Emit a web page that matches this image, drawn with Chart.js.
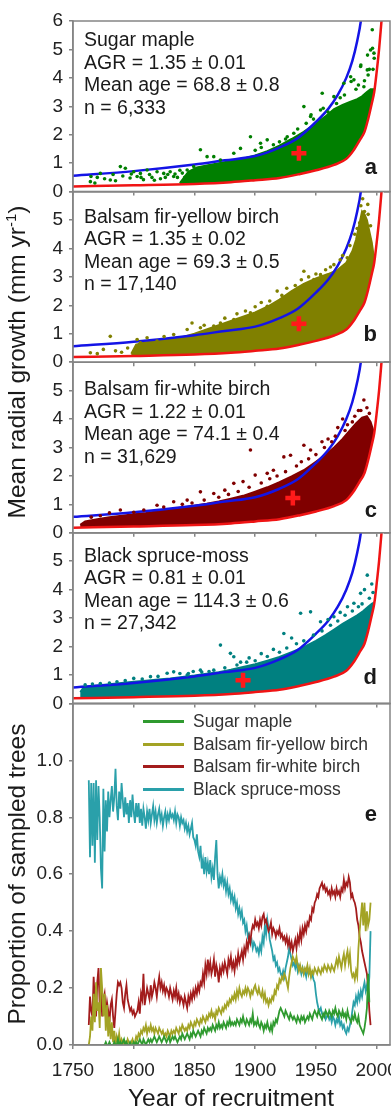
<!DOCTYPE html>
<html>
<head>
<meta charset="utf-8">
<script src="https://cdn.jsdelivr.net/npm/chart.js@4.4.1/dist/chart.umd.min.js"></script>
<style>
  html, body { margin: 0; padding: 0; background: #fff; }
  #fig { position: relative; width: 391px; height: 1116px; overflow: hidden;
         font-family: "Liberation Sans", Arial, sans-serif; color: #1a1a1a; }
  #fig canvas { position: absolute; left: 0; }
  .note { position: absolute; left: 84px; font-size: 19.5px; line-height: 22.5px; white-space: nowrap; }
  .tag { position: absolute; right: 14px; font-size: 22px; font-weight: bold; line-height: 22px; }
  .ytitle { position: absolute; font-size: 24.5px; line-height: 1; white-space: nowrap;
            transform: translate(-50%, -50%) rotate(-90deg); }
  .ytitle sup { font-size: 15px; vertical-align: 9px; line-height: 0; }
  .xtitle { position: absolute; top: 1086px; left: 231px; font-size: 24.5px; line-height: 1;
            white-space: nowrap; transform: translateX(-50%); }
  .leg { position: absolute; left: 143px; top: 710px; font-size: 17.5px; color: #333; }
  .leg div { display: flex; align-items: center; height: 22.75px; white-space: nowrap; }
  .leg span { display: inline-block; width: 41px; height: 3px; margin-right: 9px; }
</style>
</head>
<body>
<div id="fig">
  <canvas id="pa"></canvas>
  <canvas id="pb"></canvas>
  <canvas id="pc"></canvas>
  <canvas id="pd"></canvas>
  <canvas id="pe"></canvas>

  <div class="note" style="top:28px">Sugar maple<br>AGR = 1.35 ± 0.01<br>Mean age = 68.8 ± 0.8<br>n = 6,333</div>
  <div class="note" style="top:204.7px">Balsam fir-yellow birch<br>AGR = 1.35 ± 0.02<br>Mean age = 69.3 ± 0.5<br>n = 17,140</div>
  <div class="note" style="top:377px">Balsam fir-white birch<br>AGR = 1.22 ± 0.01<br>Mean age = 74.1 ± 0.4<br>n = 31,629</div>
  <div class="note" style="top:543.7px">Black spruce-moss<br>AGR = 0.81 ± 0.01<br>Mean age = 114.3 ± 0.6<br>n = 27,342</div>

  <div class="tag" style="top:156.4px">a</div>
  <div class="tag" style="top:323.1px">b</div>
  <div class="tag" style="top:498.7px">c</div>
  <div class="tag" style="top:666.4px">d</div>
  <div class="tag" style="top:803.1px">e</div>

  <div class="leg">
    <div><span style="background:#2f9a2f"></span>Sugar maple</div>
    <div><span style="background:#a3a325"></span>Balsam fir-yellow birch</div>
    <div><span style="background:#a31c1c"></span>Balsam fir-white birch</div>
    <div><span style="background:#2aa0aa"></span>Black spruce-moss</div>
  </div>

  <div class="ytitle" style="left:16.5px; top:361.5px">Mean radial growth (mm yr<sup>-1</sup>)</div>
  <div class="ytitle" style="left:16.5px; top:873.5px">Proportion of sampled trees</div>
  <div class="xtitle">Year of recruitment</div>
</div>

<script>
// ---- fitted envelope curves (same in panels a-d) ----
const blueYears = [1750, 1800, 1850, 1875, 1900, 1920, 1935, 1950, 1960, 1968, 1975, 1980, 1984, 1987, 1990];
const blueCurve = [0.56, 0.72, 0.95, 1.1, 1.25, 1.55, 1.88, 2.45, 2.9, 3.4, 4.0, 4.6, 5.3, 6.0, 7.2];
const redYears = [1750, 1800, 1850, 1880, 1900, 1920, 1937, 1950, 1965, 1975, 1981, 1986, 1990, 1993, 1996, 1998, 2000, 2002, 2004, 2006];
const redCurve = [0.18, 0.22, 0.27, 0.33, 0.40, 0.48, 0.62, 0.75, 0.94, 1.15, 1.45, 1.8, 2.1, 2.55, 3.1, 3.5, 4.2, 5.0, 6.0, 7.0];

// ---- mean marker (year of mean recruitment, AGR) ----
const crossYears = [1936, 1936, 1931, 1890];
const crossAGR = [1.35, 1.35, 1.22, 0.81];

// ---- upper edge of the dense point cloud [year, growth] ----
const sugarCloud = [[1838,0.3],[1845,0.7],[1852,0.85],[1860,0.92],[1870,1.0],[1880,1.08],[1890,1.16],[1900,1.27],[1910,1.42],[1920,1.62],[1930,1.85],[1940,2.1],[1950,2.4],[1958,2.65],[1965,2.9],[1972,3.05],[1978,3.15],[1984,3.25],[1988,3.35],[1992,3.5],[1995,3.6],[1998,3.6]];
const yellowCloud = [[1798,0.3],[1802,0.62],[1810,0.7],[1820,0.75],[1830,0.8],[1840,0.88],[1850,1.0],[1860,1.15],[1870,1.3],[1880,1.45],[1890,1.6],[1900,1.75],[1910,1.95],[1920,2.2],[1930,2.5],[1940,2.75],[1950,2.95],[1960,3.1],[1968,3.25],[1975,3.5],[1980,3.9],[1983,4.3],[1986,4.9],[1988,5.3],[1990,5.2],[1992,5.0],[1994,4.6],[1996,4.2],[1998,3.6]];
const whiteCloud = [[1756,0.28],[1760,0.4],[1770,0.48],[1780,0.55],[1790,0.6],[1800,0.65],[1810,0.7],[1820,0.76],[1830,0.82],[1840,0.88],[1850,0.95],[1860,1.02],[1870,1.1],[1880,1.2],[1890,1.3],[1900,1.45],[1910,1.6],[1920,1.78],[1930,1.98],[1940,2.2],[1950,2.5],[1958,2.75],[1965,3.0],[1972,3.3],[1978,3.6],[1983,3.85],[1988,4.05],[1992,4.1],[1995,3.9],[1998,3.5]];
const spruceCloud = [[1756,0.4],[1759,0.58],[1770,0.63],[1780,0.67],[1790,0.72],[1800,0.76],[1810,0.8],[1820,0.84],[1830,0.88],[1840,0.93],[1850,0.98],[1860,1.04],[1870,1.1],[1880,1.18],[1890,1.28],[1900,1.38],[1910,1.5],[1920,1.63],[1930,1.8],[1940,1.98],[1950,2.2],[1958,2.4],[1965,2.6],[1972,2.8],[1978,2.95],[1984,3.1],[1989,3.25],[1993,3.4],[1996,3.5],[1998,3.55]];

// ---- scattered single trees outside the dense cloud [year, growth] ----
const sugarDots = [[1764.3,0.35],[1764.8,0.53],[1768,0.3],[1770,0.5],[1772.5,0.64],[1776,0.45],[1780.7,0.41],[1783,0.6],[1785,0.38],[1789,0.88],[1791,0.55],[1793.1,0.82],[1797,0.48],[1798,0.62],[1800,0.7],[1802.8,0.53],[1805.5,0.64],[1806,0.5],[1808,0.42],[1811,0.76],[1813,0.6],[1815,0.5],[1817,0.4],[1819.2,0.7],[1822,0.45],[1824.7,0.64],[1826,0.5],[1828,0.6],[1830,0.7],[1832.9,0.53],[1834,0.62],[1836,0.5],[1838,0.75],[1840,0.65],[1842,0.5],[1844,0.76],[1849.4,0.88],[1854.9,1.47],[1860.4,1.23],[1865.9,1.23],[1871.4,1.11],[1882.4,1.35],[1887.9,1.52],[1896.1,1.93],[1900,1.45],[1904.4,1.7],[1905,1.55],[1909.9,1.82],[1915,1.65],[1920,1.75],[1925,1.85],[1926.4,1.93],[1931.8,2.05],[1935,2.2],[1940.1,2.99],[1942,2.4],[1945.6,2.64],[1946,2.7],[1948,2.55],[1953.8,2.87],[1955.2,3.46],[1956,2.93],[1960,2.8],[1964.8,3.34],[1967,3.1],[1970,3.3],[1973,3.81],[1973.5,3.4],[1978.6,4.04],[1979,3.87],[1981.3,3.93],[1983,3.6],[1985,3.75],[1986.8,4.4],[1987,4.45],[1989.5,3.69],[1990,3.9],[1992.3,4.28],[1992.5,4.8],[1993,4.1],[1994,4.3],[1995,4.98],[1996.4,5.69],[1996.6,5.04],[1997,4.3],[1997.8,4.87],[1998,4.69]];
const yellowDots = [[1764.3,0.33],[1770,0.3],[1775,0.45],[1780.7,0.91],[1785,0.4],[1790,0.35],[1795,0.5],[1802.8,0.8],[1805.5,0.68],[1811,0.86],[1819.2,0.74],[1825,0.9],[1832.9,0.97],[1844,1.15],[1848,1.38],[1854.9,1.21],[1858,1.3],[1865.9,1.27],[1871.4,1.38],[1875,1.55],[1882.4,1.5],[1885,1.7],[1892,1.8],[1896.1,1.74],[1900,1.95],[1905,2.1],[1909.9,1.97],[1912,2.15],[1918.1,2.5],[1922,2.35],[1926,2.6],[1929.1,2.09],[1933,2.7],[1935,2.6],[1938,2.9],[1940.1,3.2],[1944,3.0],[1948.3,2.91],[1950,3.1],[1953.8,3.08],[1958,3.25],[1962,3.35],[1964.8,3.43],[1970,3.6],[1972,3.75],[1975.8,3.67],[1978,4.1],[1982,4.5],[1984,4.7],[1986,4.9],[1987,5.5],[1988.5,5.75],[1990,5.3],[1992.7,5.55],[1993,5.2],[1995,4.8]];
const whiteDots = [[1765,0.55],[1772.5,0.6],[1780,0.7],[1789,0.8],[1800,0.72],[1808.3,0.8],[1819.2,0.97],[1824.7,0.91],[1832.9,1.09],[1840,1.0],[1844,1.15],[1848,1.05],[1854.9,1.44],[1858,1.15],[1865.9,1.38],[1870,1.25],[1875,1.5],[1878,1.35],[1882.4,1.74],[1886,1.45],[1890,1.8],[1895,1.6],[1896.1,2.91],[1900,2.03],[1905,1.75],[1909.9,2.09],[1912,1.9],[1915,2.2],[1918,2.0],[1923.6,2.67],[1925,2.15],[1929.1,2.73],[1934,2.35],[1938,2.5],[1940.1,3.08],[1944,2.6],[1945.6,2.91],[1950,2.75],[1955,3.2],[1957,3.0],[1960,3.3],[1963,3.2],[1966,3.4],[1968,3.7],[1972,4.0],[1974,3.6],[1976,3.8],[1980,3.9],[1982,4.1],[1985,4.3],[1987,4.3],[1989.5,4.67],[1992,4.4],[1994,4.2]];
const spruceDots = [[1760,0.65],[1766,0.68],[1772.5,0.7],[1780,0.72],[1786.2,0.76],[1793,0.8],[1800,0.88],[1807,0.86],[1813.8,0.94],[1820,0.95],[1827.5,1.06],[1832.9,1.11],[1838,1.05],[1844,1.0],[1845,1.05],[1849,1.12],[1854.9,1.17],[1856,1.1],[1862,1.12],[1865.9,1.17],[1871.4,2.05],[1875,1.25],[1879.6,1.76],[1882.4,1.64],[1885,1.35],[1888,1.45],[1893,1.45],[1895,1.6],[1900,1.5],[1905,1.75],[1910,1.65],[1915,1.9],[1920,1.8],[1923.6,2.46],[1926,1.95],[1930,2.3],[1934,2.1],[1937.4,3.17],[1940,2.2],[1945.6,3.22],[1948,2.4],[1953.8,2.87],[1955,2.55],[1960,2.95],[1962,2.75],[1964.8,3.05],[1968,2.9],[1970,3.2],[1974,3.1],[1976,3.4],[1980,3.25],[1981.3,3.52],[1985,3.4],[1986.8,3.87],[1988,3.5],[1990,4.0],[1992.3,4.51],[1994,3.7],[1996,4.2],[1997,3.9]];

// ---- panel e: proportion of sampled trees, one value per year from 1763 ----
const firstYear = 1763;
const sugarMaple = [
  null,null,null,null,null,null,null,null,null,null,
  null,null,0,0,0.01,0,0,0.01,0,0,
  0,0.01,0,0,0.02,0,0.01,0,0.01,0.02,
  0,0.01,0,0,0.01,0,0,0.01,0,0.01,
  0,0.01,0.02,0.01,0,0.02,0.01,0,0.01,0.02,
  0.01,0.02,0.01,0.02,0.03,0.02,0.01,0.02,0.03,0.02,
  0.01,0.02,0.03,0.02,0.01,0.02,0.03,0.01,0.02,0.03,
  0.02,0.03,0.02,0.01,0.02,0.03,0.02,0.04,0.03,0.02,
  0.03,0.04,0.03,0.02,0.04,0.03,0.05,0.04,0.03,0.04,
  0.05,0.04,0.03,0.05,0.04,0.06,0.05,0.04,0.06,0.05,
  0.06,0.05,0.07,0.06,0.05,0.07,0.06,0.08,0.06,0.07,
  0.06,0.08,0.07,0.06,0.08,0.07,0.09,0.07,0.08,0.07,
  0.08,0.07,0.09,0.08,0.07,0.09,0.08,0.10,0.08,0.07,
  0.09,0.08,0.07,0.09,0.08,0.11,0.07,0.08,0.07,0.09,
  0.07,0.06,0.08,0.07,0.05,0.07,0.06,0.08,0.06,0.05,
  0.07,0.05,0.08,0.07,0.09,0.08,0.10,0.12,0.13,0.12,
  0.11,0.10,0.12,0.11,0.10,0.09,0.11,0.10,0.09,0.10,
  0.09,0.08,0.10,0.09,0.08,0.10,0.09,0.10,0.08,0.09,
  0.10,0.09,0.11,0.10,0.09,0.11,0.12,0.11,0.10,0.12,
  0.11,0.10,0.09,0.11,0.10,0.12,0.11,0.10,0.12,0.11,
  0.10,0.12,0.11,0.13,0.11,0.10,0.12,0.11,0.10,0.12,
  0.10,0.11,0.09,0.12,0.10,0.09,0.08,0.10,0.09,0.11,
  0.09,0.08,0.10,0.07,0.06,0.05,0.04,0.06,0.09,0.13,
  0.25,0.15,null
];
const yellowBirch = [
  0.00,0.03,0.10,0.05,0.18,0.08,0.22,0.12,0.15,0.06,
  0.27,0.20,0.10,0.18,0.05,0.14,0.03,0.10,0.02,0.08,
  0.01,0.05,0.00,0.03,0.01,0.04,0.00,0.02,0.01,0.00,
  0.01,0.00,0.02,0.01,0.00,0.01,0.02,0.00,0.01,0.03,
  0.02,0.04,0.03,0.05,0.04,0.06,0.05,0.07,0.04,0.06,
  0.05,0.07,0.05,0.06,0.04,0.06,0.05,0.04,0.06,0.05,
  0.04,0.05,0.03,0.04,0.03,0.05,0.04,0.03,0.05,0.04,
  0.05,0.04,0.06,0.05,0.04,0.06,0.05,0.07,0.06,0.05,
  0.06,0.05,0.07,0.06,0.08,0.07,0.06,0.08,0.07,0.09,
  0.08,0.07,0.09,0.08,0.10,0.09,0.08,0.10,0.09,0.11,
  0.10,0.12,0.10,0.11,0.09,0.12,0.11,0.13,0.12,0.11,
  0.13,0.12,0.14,0.13,0.15,0.14,0.16,0.15,0.17,0.16,
  0.18,0.16,0.19,0.17,0.20,0.18,0.17,0.19,0.18,0.20,
  0.18,0.20,0.19,0.17,0.19,0.18,0.20,0.21,0.19,0.18,
  0.20,0.18,0.17,0.19,0.16,0.18,0.15,0.16,0.14,0.16,
  0.15,0.17,0.16,0.19,0.18,0.21,0.20,0.23,0.22,0.24,
  0.23,0.25,0.24,0.22,0.20,0.24,0.27,0.29,0.31,0.30,
  0.29,0.31,0.28,0.26,0.28,0.26,0.27,0.25,0.27,0.26,
  0.28,0.25,0.27,0.24,0.26,0.25,0.27,0.26,0.25,0.27,
  0.26,0.25,0.27,0.26,0.28,0.27,0.26,0.28,0.27,0.26,
  0.28,0.27,0.26,0.28,0.30,0.28,0.31,0.29,0.27,0.30,
  0.32,0.28,0.31,0.33,0.29,0.32,0.26,0.24,0.25,0.23,
  0.26,0.24,0.34,0.40,0.45,0.50,0.42,0.50,0.40,0.47,
  0.42,0.44,0.50
];
const whiteBirch = [
  0.07,0.17,0.12,0.10,0.24,0.15,0.10,0.22,0.27,0.14,
  0.20,0.10,0.16,0.18,0.11,0.15,0.12,0.08,0.14,0.16,
  0.10,0.06,0.12,0.18,0.22,0.21,0.22,0.20,0.15,0.13,
  0.18,0.21,0.16,0.14,0.12,0.13,0.11,0.12,0.10,0.11,
  0.12,0.15,0.11,0.18,0.16,0.25,0.14,0.17,0.20,0.18,
  0.16,0.21,0.17,0.19,0.22,0.20,0.17,0.21,0.24,0.20,
  0.22,0.19,0.21,0.18,0.20,0.19,0.17,0.20,0.18,0.16,
  0.19,0.17,0.20,0.16,0.18,0.15,0.17,0.16,0.14,0.17,
  0.15,0.13,0.17,0.15,0.18,0.16,0.19,0.17,0.20,0.18,
  0.21,0.19,0.22,0.21,0.25,0.22,0.28,0.25,0.30,0.26,
  0.29,0.25,0.27,0.30,0.24,0.28,0.26,0.22,0.27,0.25,
  0.28,0.26,0.29,0.27,0.25,0.30,0.28,0.31,0.27,0.29,
  0.26,0.30,0.28,0.32,0.29,0.31,0.33,0.30,0.34,0.32,
  0.36,0.34,0.38,0.36,0.40,0.42,0.41,0.44,0.42,0.43,
  0.41,0.44,0.42,0.45,0.46,0.43,0.44,0.42,0.40,0.41,
  0.43,0.39,0.41,0.40,0.38,0.40,0.39,0.41,0.38,0.39,
  0.37,0.38,0.36,0.38,0.35,0.37,0.34,0.36,0.33,0.35,
  0.37,0.34,0.38,0.36,0.40,0.37,0.41,0.39,0.42,0.40,
  0.43,0.42,0.45,0.44,0.48,0.47,0.50,0.51,0.53,0.52,
  0.55,0.56,0.57,0.55,0.56,0.54,0.55,0.53,0.54,0.52,
  0.55,0.53,0.54,0.52,0.55,0.53,0.54,0.52,0.55,0.54,
  0.58,0.55,0.57,0.56,0.59,0.57,0.52,0.53,0.51,0.50,
  0.48,0.44,0.42,0.38,0.36,0.33,0.31,0.29,0.27,0.25,
  0.20,0.12,0.07
];
const blackSpruce = [
  0.93,0.66,0.92,0.70,0.92,0.64,0.93,0.72,0.91,0.80,
  0.62,0.55,0.90,0.68,0.86,0.75,0.89,0.80,0.86,0.91,
  0.82,0.87,0.97,0.84,0.79,0.89,0.83,0.92,0.86,0.80,
  0.87,0.81,0.85,0.78,0.86,0.80,0.88,0.82,0.78,0.85,
  0.80,0.85,0.78,0.83,0.77,0.83,0.80,0.76,0.82,0.79,
  0.83,0.78,0.81,0.84,0.79,0.82,0.78,0.81,0.83,0.79,
  0.81,0.77,0.80,0.82,0.78,0.81,0.79,0.82,0.80,0.81,
  0.79,0.82,0.78,0.81,0.80,0.77,0.80,0.78,0.79,0.76,
  0.78,0.75,0.77,0.74,0.76,0.78,0.73,0.72,0.70,0.74,
  0.68,0.66,0.70,0.62,0.65,0.60,0.66,0.61,0.64,0.60,
  0.65,0.59,0.62,0.58,0.66,0.72,0.60,0.55,0.59,0.57,
  0.60,0.56,0.58,0.54,0.57,0.53,0.55,0.51,0.53,0.50,
  0.52,0.48,0.50,0.46,0.48,0.45,0.47,0.43,0.44,0.40,
  0.42,0.38,0.39,0.36,0.37,0.34,0.36,0.35,0.33,0.34,
  0.32,0.35,0.33,0.38,0.36,0.42,0.39,0.44,0.41,0.37,
  0.35,0.33,0.30,0.31,0.28,0.29,0.26,0.27,0.25,0.24,
  0.26,0.24,0.27,0.29,0.31,0.34,0.32,0.30,0.28,0.29,
  0.27,0.29,0.26,0.28,0.27,0.25,0.27,0.25,0.26,0.24,
  0.27,0.25,0.26,0.24,0.25,0.23,0.22,0.18,0.15,0.13,
  0.12,0.13,0.11,0.10,0.11,0.09,0.10,0.11,0.09,0.10,
  0.08,0.10,0.09,0.07,0.09,0.08,0.10,0.07,0.08,0.06,
  0.07,0.05,0.04,0.06,0.05,0.07,0.09,0.12,0.15,0.14,
  0.17,0.15,0.18,0.16,0.19,0.17,0.20,0.22,0.19,0.21,
  0.18,0.24,0.40
];

const FONT = "'Liberation Sans', Arial, sans-serif";
const GRAY = '#858585';
Chart.defaults.font.family = FONT;

const framePlugin = {
  id: 'frame',
  afterDatasetsDraw(chart) {
    const { ctx, chartArea: a } = chart;
    ctx.save();
    ctx.strokeStyle = GRAY;
    ctx.lineWidth = 1.5;
    ctx.strokeRect(a.left, a.top, a.right - a.left, a.bottom - a.top);
    ctx.restore();
  }
};

function pts(pairs) {
  return pairs.map(p => ({ x: p[0], y: p[1] }));
}
function curve(xs, ys) {
  return xs.map((x, i) => ({ x: x, y: ys[i] }));
}

function makeChart(id, areaTop, areaBottom, canvasBottom, showX, datasets, yMax, yStep, yFmt) {
  const cv = document.getElementById(id);
  const top = Math.floor(areaTop) - 12;
  const h = Math.ceil(canvasBottom) - top;
  cv.width = 391; cv.height = h;
  cv.style.top = top + 'px';
  cv.style.width = '391px'; cv.style.height = h + 'px';
  const xh = showX ? canvasBottom - areaBottom : 6;
  const padBottom = h - xh - (areaBottom - top);

  return new Chart(cv, {
    type: 'scatter',
    data: { datasets: datasets },
    plugins: [framePlugin],
    options: {
      responsive: false,
      animation: false,
      events: [],
      layout: { autoPadding: false, padding: { top: areaTop - top, bottom: padBottom, left: 0, right: 1 } },
      plugins: { legend: { display: false }, tooltip: { enabled: false } },
      scales: {
        x: {
          type: 'linear', min: 1750, max: 2011, bounds: 'data',
          afterBuildTicks: s => { s.ticks = s.ticks.filter(t => t.value <= 2000); },
          ticks: { display: showX, stepSize: 50, includeBounds: false, autoSkip: false, maxRotation: 0,
                   padding: 10, color: '#222', font: { size: 19 }, callback: v => String(v) },
          grid: { drawOnChartArea: false, tickLength: 4, color: GRAY, lineWidth: 1.5 },
          border: { color: GRAY, width: 1.5 },
          afterFit: s => { s.height = xh; s.paddingLeft = 0; s.paddingRight = 0; }
        },
        y: {
          min: 0, max: yMax, bounds: 'data',
          ticks: { stepSize: yStep, padding: 6, color: '#222', font: { size: 19 }, callback: yFmt },
          grid: { drawOnChartArea: false, tickLength: 4, color: GRAY, lineWidth: 1.5 },
          border: { color: GRAY, width: 1.5 },
          afterFit: s => { s.width = 73; s.paddingTop = 0; s.paddingBottom = 0; }
        }
      }
    }
  });
}

function growthPanel(id, areaTop, areaBottom, color, cloudTop, dots, k, maxLabel) {
  const cloud = pts(cloudTop);
  cloud.push({ x: cloudTop[cloudTop.length - 1][0], y: 0 }, { x: cloudTop[0][0], y: 0 });
  const datasets = [
    { data: [{ x: crossYears[k], y: crossAGR[k] }], pointStyle: 'cross', pointRadius: 7.5,
      borderColor: '#ff1a1a', backgroundColor: '#ff1a1a', pointBorderWidth: 4.5, order: 0 },
    { data: pts(dots), pointRadius: 1.8, pointBorderWidth: 0, backgroundColor: color, order: 1 },
    { type: 'line', data: curve(blueYears, blueCurve), borderColor: '#1414e6', borderWidth: 2.5,
      pointRadius: 0, cubicInterpolationMode: 'monotone', fill: false, order: 2 },
    { type: 'line', data: curve(redYears, redCurve), borderColor: '#f01414', borderWidth: 2.5,
      pointRadius: 0, cubicInterpolationMode: 'monotone', fill: 'start', backgroundColor: '#ffffff', order: 3 },
    { type: 'line', data: cloud, borderColor: color, borderWidth: 2, pointRadius: 0, tension: 0,
      fill: 'shape', backgroundColor: color, order: 4 }
  ];
  makeChart(id, areaTop, areaBottom, areaBottom + 12, false, datasets, 6, 1,
            v => (v <= maxLabel ? String(v) : ''));
}

const tops = [21, 191.6, 362.2, 532.8, 703.4];
growthPanel('pa', tops[0], tops[1], '#007f00', sugarCloud, sugarDots, 0, 6);
growthPanel('pb', tops[1], tops[2], '#808000', yellowCloud, yellowDots, 1, 5);
growthPanel('pc', tops[2], tops[3], '#800000', whiteCloud, whiteDots, 2, 5);
growthPanel('pd', tops[3], tops[4], '#008080', spruceCloud, spruceDots, 3, 5);

function series(vals) {
  return vals.map((v, i) => ({ x: firstYear + i, y: v }));
}
const lineStyle = { type: 'line', pointRadius: 0, borderWidth: 1.8, tension: 0, fill: false, spanGaps: false };
makeChart('pe', tops[4], 1045, 1116, true, [
  Object.assign({ data: series(sugarMaple), borderColor: '#2f9a2f' }, lineStyle),
  Object.assign({ data: series(yellowBirch), borderColor: '#a3a325' }, lineStyle),
  Object.assign({ data: series(whiteBirch), borderColor: '#a31c1c' }, lineStyle),
  Object.assign({ data: series(blackSpruce), borderColor: '#2aa0aa' }, lineStyle)
], 1.2, 0.2, v => (v > 1.05 ? '' : v.toFixed(1)));
</script>
</body>
</html>
